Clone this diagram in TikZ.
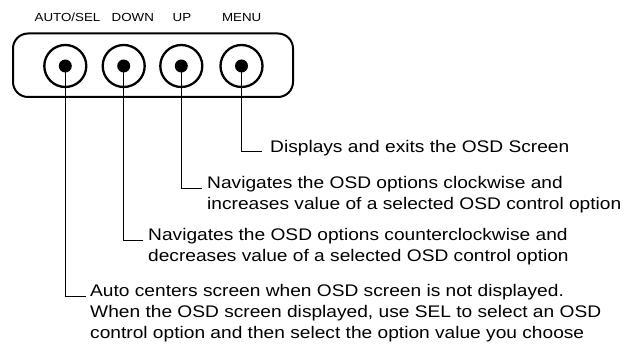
\documentclass[tikz,border=0pt]{standalone}
\usepackage{fontspec}
\setmainfont{Liberation Sans}[FakeStretch=1.14]
\begin{document}
\begin{tikzpicture}[x=1pt,y=-1pt,
  panel/.style={draw=black,line width=2pt,rounded corners=15pt},
  knob/.style={circle,draw=black,line width=2.3pt,minimum size=42pt,inner sep=0pt},
  dot/.style={circle,fill=black,minimum size=13pt,inner sep=0pt},
  lab/.style={font=\fontsize{11.7}{14}\selectfont,inner sep=0pt,anchor=base},
  desc/.style={font=\fontsize{16.8}{21}\selectfont,inner sep=0pt,anchor=base west,align=left},
  lead/.style={draw=black,line width=1pt}]
\useasboundingbox (0,0) rectangle (625,347);
\draw[panel] (13,33.5) rectangle (293,97);
\foreach \n/\x in {1/65.3,2/123.7,3/181.3,4/241.5}{
  \node[knob] (k\n) at (\x,66) {};
  \node[dot] (d\n) at (\x,66) {};
}
\node[lab] (l1) at (67.5,21.7) {AUTO/SEL};
\node[lab] (l2) at (132.8,21.7) {DOWN};
\node[lab] (l3) at (182,21.7) {UP};
\node[lab] (l4) at (241.7,21.7) {MENU};
\node[desc] (t4) at (270,153) {Displays and exits the OSD Screen};
\node[desc] (t3) at (207,210) {Navigates the OSD options clockwise and\\increases value of a selected OSD control option};
\node[desc] (t2) at (148,261.7) {Navigates the OSD options counterclockwise and\\decreases value of a selected OSD control option};
\node[desc] (t1) at (90,338.7) {Auto centers screen when OSD screen is not displayed.\\When the OSD screen displayed, use SEL to select an OSD\\control option and then select the option value you choose};
\draw[lead] (d4.center) |- ([xshift=-8pt,yshift=1pt]t4.base west);
\draw[lead] (d3.center) |- ([xshift=-5pt,yshift=21pt]t3.base west);
\draw[lead] (d2.center) |- ([xshift=-5pt,yshift=21pt]t2.base west);
\draw[lead] (d1.center) |- ([xshift=-4pt,yshift=42pt]t1.base west);
\end{tikzpicture}
\end{document}
